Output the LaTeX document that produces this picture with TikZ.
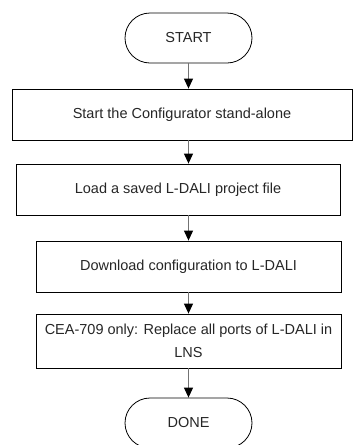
\documentclass[tikz,border=0pt]{standalone}
\usepackage{fontspec}
\setmainfont{Liberation Sans}
\usetikzlibrary{shapes.misc,arrows.meta}
\begin{document}
\begin{tikzpicture}[x=1pt,y=-1pt,
  every node/.style={font=\fontsize{14.5}{23}\selectfont, text=black!85},
  term/.style={draw=black, line width=0.8pt, rounded rectangle, minimum width=127pt, minimum height=50pt, inner sep=0pt},
  stepbox/.style={draw=black, line width=0.8pt, rectangle, inner sep=0pt, align=center},
  flow/.style={draw=black!55, line width=1.1pt, -{Triangle[length=10pt,width=9pt,color=black]}}]
\useasboundingbox (0,0) rectangle (353,445);
\node[term] (start) at (188.5,38) {START};
\node[stepbox, minimum width=340pt, minimum height=51pt] (b1) at (182,114.5) {Start the Configurator stand-alone};
\node[stepbox, minimum width=324pt, minimum height=51pt] (b2) at (178,189.5) {Load a saved L-DALI project file};
\node[stepbox, minimum width=305pt, minimum height=51pt] (b3) at (188.5,266.5) {Download configuration to L-DALI};
\node[stepbox, minimum width=305pt, minimum height=54pt] (b4) at (188.5,341) {CEA-709 only: Replace all ports of L-DALI in\\LNS};
\node[term] (done) at (188.5,423) {DONE};
\draw[flow] (start.south) -- (start.south |- b1.north);
\draw[flow] (b1.south -| start) -- (b2.north -| start);
\draw[flow] (b2.south -| start) -- (b3.north -| start);
\draw[flow] (b3.south -| start) -- (b4.north -| start);
\draw[flow] (b4.south -| start) -- (done.north);
\end{tikzpicture}
\end{document}
